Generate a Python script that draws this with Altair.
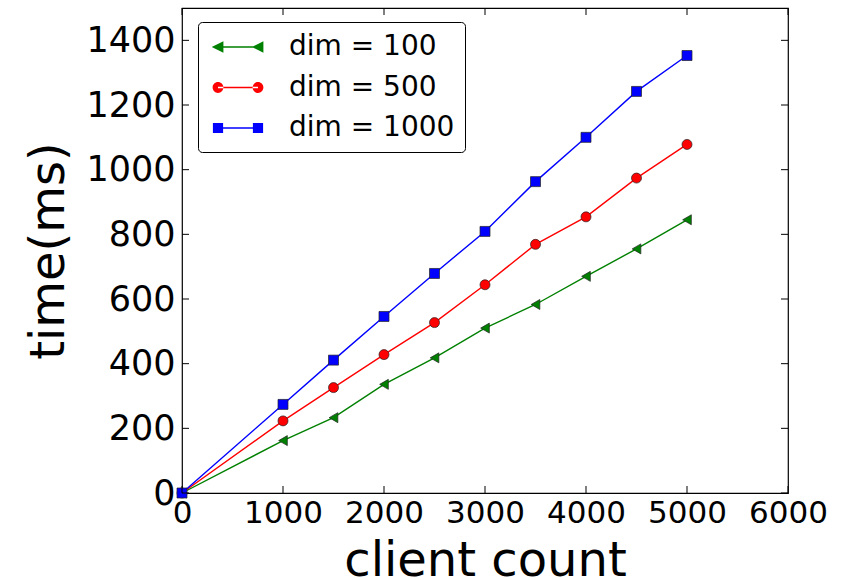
import altair as alt
import pandas as pd

# ---- data ----
client_count = [0, 1000, 1500, 2000, 2500, 3000, 3500, 4000, 4500, 5000]
dim100 = [0, 162, 233, 336, 418, 510, 583, 670, 755, 845]
dim500 = [0, 223, 326, 428, 527, 644, 769, 854, 974, 1078]
dim1000 = [0, 274, 411, 546, 679, 809, 963, 1100, 1242, 1353]
series_names = ["dim = 100", "dim = 500", "dim = 1000"]
series_colors = ["#008000", "#ff0000", "#0000ff"]
x_ticks = [0, 1000, 2000, 3000, 4000, 5000, 6000]
y_ticks = [0, 200, 400, 600, 800, 1000, 1200, 1400]

rows = []
for name, vals in zip(series_names, [dim100, dim500, dim1000]):
    for order, (xv, yv) in enumerate(zip(client_count, vals)):
        rows.append({"series": name, "x": xv, "y": yv, "order": order})
df = pd.DataFrame(rows)

FONT = "DejaVu Sans"
xs = alt.Scale(domain=[0, 6000], nice=False, zero=False)
ys = alt.Scale(domain=[0, 1500], nice=False, zero=False)

x_enc = alt.X("x:Q", scale=xs, title="client count",
              axis=alt.Axis(values=x_ticks, format="d", labelFontSize=31,
                            labelPadding=5, titleFontSize=48, titlePadding=9,
                            labelOverlap=False, labelFlush=False))
y_enc = alt.Y("y:Q", scale=ys, title="time(ms)",
              axis=alt.Axis(values=y_ticks, format="d", labelFontSize=35,
                            labelPadding=7, titleFontSize=48, titlePadding=12,
                            labelOverlap=False, labelFlush=False))

color_plain = alt.Color("series:N", scale=alt.Scale(domain=series_names, range=series_colors), legend=None)

lines = alt.Chart(df).mark_line(strokeWidth=1.4).encode(
    x=x_enc, y=y_enc, color=color_plain, order="order:Q", detail="series:N"
)

points = alt.Chart(df).mark_point(filled=True, size=100, stroke="#222222", strokeWidth=0.7, opacity=1).encode(
    x="x:Q", y="y:Q",
    color=alt.Color("series:N", scale=alt.Scale(domain=series_names, range=series_colors), legend=None),
    shape=alt.Shape("series:N", scale=alt.Scale(domain=series_names,
                                                range=["triangle-left", "circle", "square"]), legend=None),
)

# legend-only layer: symbols = line + two markers
line_part = "M-0.333,-0.05L2.333,-0.05L2.333,0.05L-0.333,0.05Z"
def tri(cx):
    return f"M{cx-0.42},0L{cx+0.36},-0.38L{cx+0.36},0.38Z"
def circ(cx, r=0.36):
    return f"M{cx+r},0A{r},{r} 0 1,0 {cx-r},0A{r},{r} 0 1,0 {cx+r},0Z"
def sq(cx, h=0.34):
    return f"M{cx-h},{-h}L{cx+h},{-h}L{cx+h},{h}L{cx-h},{h}Z"
legend_shapes = [
    line_part + tri(-0.333) + tri(2.333),
    line_part + circ(-0.333) + circ(2.333),
    line_part + sq(-0.333) + sq(2.333),
]
legend_layer = alt.Chart(df).transform_filter("false").mark_point(filled=True).encode(
    x="x:Q", y="y:Q",
    color=alt.Color("series:N", scale=alt.Scale(domain=series_names, range=series_colors),
                    legend=alt.Legend(title=None)),
    shape=alt.Shape("series:N", scale=alt.Scale(domain=series_names, range=legend_shapes),
                    legend=alt.Legend(title=None)),
)

# inward ticks on all four sides
xt = pd.DataFrame({"t": x_ticks})
yt = pd.DataFrame({"t": y_ticks})
tick_kw = dict(color="black", thickness=1, size=7, opacity=1)
t_bottom = alt.Chart(xt).mark_tick(orient="vertical", yOffset=-3.5, **tick_kw).encode(x="t:Q", y=alt.datum(0))
t_top = alt.Chart(xt).mark_tick(orient="vertical", yOffset=3.5, **tick_kw).encode(x="t:Q", y=alt.datum(1500))
t_left = alt.Chart(yt).mark_tick(orient="horizontal", xOffset=3.5, **tick_kw).encode(y="t:Q", x=alt.datum(0))
t_right = alt.Chart(yt).mark_tick(orient="horizontal", xOffset=-3.5, **tick_kw).encode(y="t:Q", x=alt.datum(6000))

chart = alt.layer(lines, points, legend_layer, t_bottom, t_top, t_left, t_right).resolve_scale(
    color="independent", shape="independent"
).properties(
    width=606, height=485,
    autosize=alt.AutoSizeParams(type="none"),
    padding={"left": 182, "top": 8, "right": 63, "bottom": 87},
).configure(
    font=FONT,
    background="white",
).configure_view(
    stroke="black", strokeWidth=1.2, fill="white"
).configure_axis(
    domain=False, ticks=False, grid=False,
    labelColor="black", titleColor="black", labelFont=FONT, titleFont=FONT,
    titleFontWeight="normal",
).configure_legend(
    orient="none", legendX=16, legendY=14,
    labelFont=FONT, labelFontSize=28, labelColor="black", labelOffset=51,
    labelLimit=0,
    symbolSize=900, symbolStrokeWidth=0, symbolOpacity=1,
    rowPadding=11.5, padding=10,
    strokeColor="black", fillColor="white", cornerRadius=4,
)

chart.save("out.html", embed_options={"renderer": "svg", "actions": False})
